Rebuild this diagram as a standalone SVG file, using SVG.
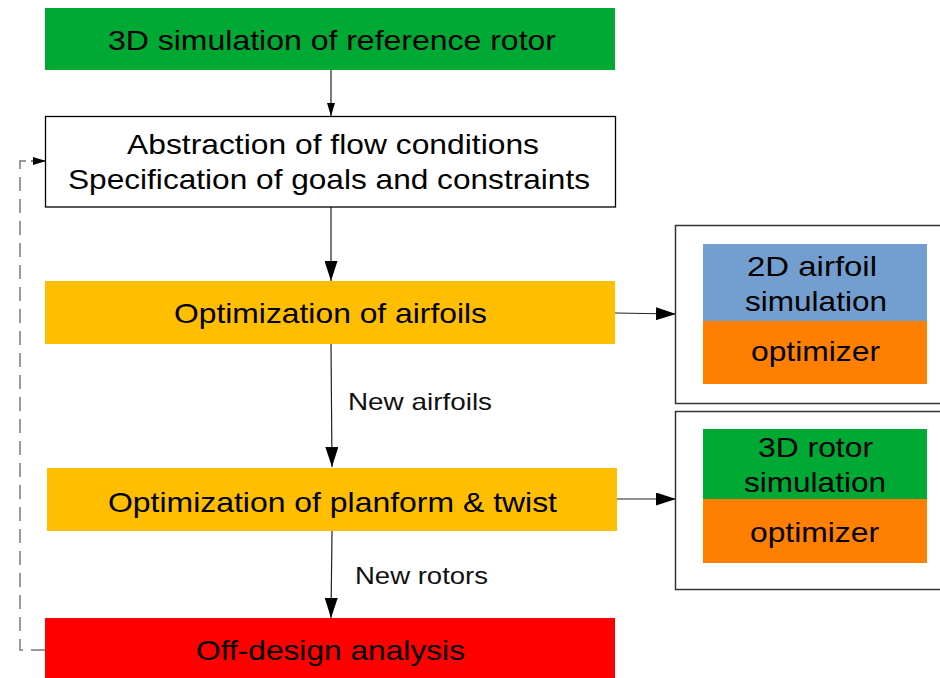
<svg xmlns="http://www.w3.org/2000/svg" width="940" height="678" viewBox="0 0 940 678">
<defs>
<style>
text{font-family:"Liberation Sans",Arial,sans-serif;fill:#000}
.big{font-size:28px}
.lbl{font-size:24px;fill:#111}
.conn{stroke:#222;stroke-width:1.2;fill:none}
.dash{stroke:#9a9a9a;stroke-width:2;fill:none;stroke-dasharray:14,8}
.frame{fill:#fff;stroke:#333;stroke-width:1.5}
</style>
<marker id="ah" viewBox="0 0 13 8" refX="13" refY="4" markerWidth="13" markerHeight="8" markerUnits="userSpaceOnUse" orient="auto">
<path d="M0,0 L13,4 L0,8 z" fill="#000"/>
</marker>
<marker id="ahb" viewBox="0 0 20 13" refX="20" refY="6.5" markerWidth="20" markerHeight="13" markerUnits="userSpaceOnUse" orient="auto">
<path d="M0,0 L20,6.5 L0,13 z" fill="#000"/>
</marker>
</defs>
<rect width="940" height="678" fill="#fff"/>
<g id="connectors">
<line class="conn" x1="331" y1="70" x2="331" y2="116" marker-end="url(#ah)"/>
<line class="conn" x1="331" y1="207" x2="331" y2="281" marker-end="url(#ahb)"/>
<line class="conn" x1="331" y1="344" x2="332" y2="467" marker-end="url(#ahb)"/>
<line class="conn" x1="332" y1="531" x2="331" y2="618" marker-end="url(#ahb)"/>
<line class="conn" x1="615" y1="313" x2="676" y2="314" marker-end="url(#ahb)"/>
<line class="conn" x1="617" y1="499" x2="676" y2="499" marker-end="url(#ahb)"/>
<polyline class="dash" points="45,650 20,650 20,161 31,161"/>
<line class="conn" x1="31" y1="161" x2="46" y2="161" marker-end="url(#ah)"/>
<text class="lbl" x="348" y="410" textLength="144" lengthAdjust="spacingAndGlyphs">New airfoils</text>
<text class="lbl" x="355" y="584" textLength="133" lengthAdjust="spacingAndGlyphs">New rotors</text>
</g>
<g id="n_ref">
<rect x="45" y="8" width="570" height="62" fill="#00A933"/>
<text class="big" x="108" y="50" textLength="448" lengthAdjust="spacingAndGlyphs">3D simulation of reference rotor</text>
</g>
<g id="n_abstraction">
<rect x="45.5" y="116.5" width="570" height="90.5" fill="#fff" stroke="#000" stroke-width="1.3"/>
<text class="big" x="127" y="154" textLength="412" lengthAdjust="spacingAndGlyphs">Abstraction of flow conditions</text>
<text class="big" x="68" y="189" textLength="522" lengthAdjust="spacingAndGlyphs">Specification of goals and constraints</text>
</g>
<g id="n_airfoils">
<rect x="45" y="281" width="570" height="63" fill="#FFBF00"/>
<text class="big" x="174" y="323" textLength="313" lengthAdjust="spacingAndGlyphs">Optimization of airfoils</text>
</g>
<g id="n_planform">
<rect x="47" y="468" width="570" height="63" fill="#FFBF00"/>
<text class="big" x="108" y="512" textLength="449" lengthAdjust="spacingAndGlyphs">Optimization of planform &amp; twist</text>
</g>
<g id="n_offdesign">
<rect x="45" y="618" width="570" height="60" fill="#FF0000"/>
<text class="big" x="196" y="660" textLength="269" lengthAdjust="spacingAndGlyphs">Off-design analysis</text>
</g>
<g id="n_2d">
<rect class="frame" x="675.5" y="225.5" width="272" height="178"/>
<rect x="703" y="244" width="224" height="77" fill="#729FCF"/>
<rect x="703" y="321" width="224" height="63" fill="#FF8000"/>
<text class="big" x="747" y="276" textLength="130" lengthAdjust="spacingAndGlyphs">2D airfoil</text>
<text class="big" x="745" y="311" textLength="142" lengthAdjust="spacingAndGlyphs">simulation</text>
<text class="big" x="751" y="361" textLength="129" lengthAdjust="spacingAndGlyphs">optimizer</text>
</g>
<g id="n_3d">
<rect class="frame" x="675.5" y="411.5" width="272" height="178"/>
<rect x="703" y="429" width="224" height="70" fill="#00A933"/>
<rect x="703" y="499" width="224" height="64" fill="#FF8000"/>
<text class="big" x="758" y="457" textLength="115" lengthAdjust="spacingAndGlyphs">3D rotor</text>
<text class="big" x="744" y="492" textLength="142" lengthAdjust="spacingAndGlyphs">simulation</text>
<text class="big" x="750" y="542" textLength="129" lengthAdjust="spacingAndGlyphs">optimizer</text>
</g>
</svg>
